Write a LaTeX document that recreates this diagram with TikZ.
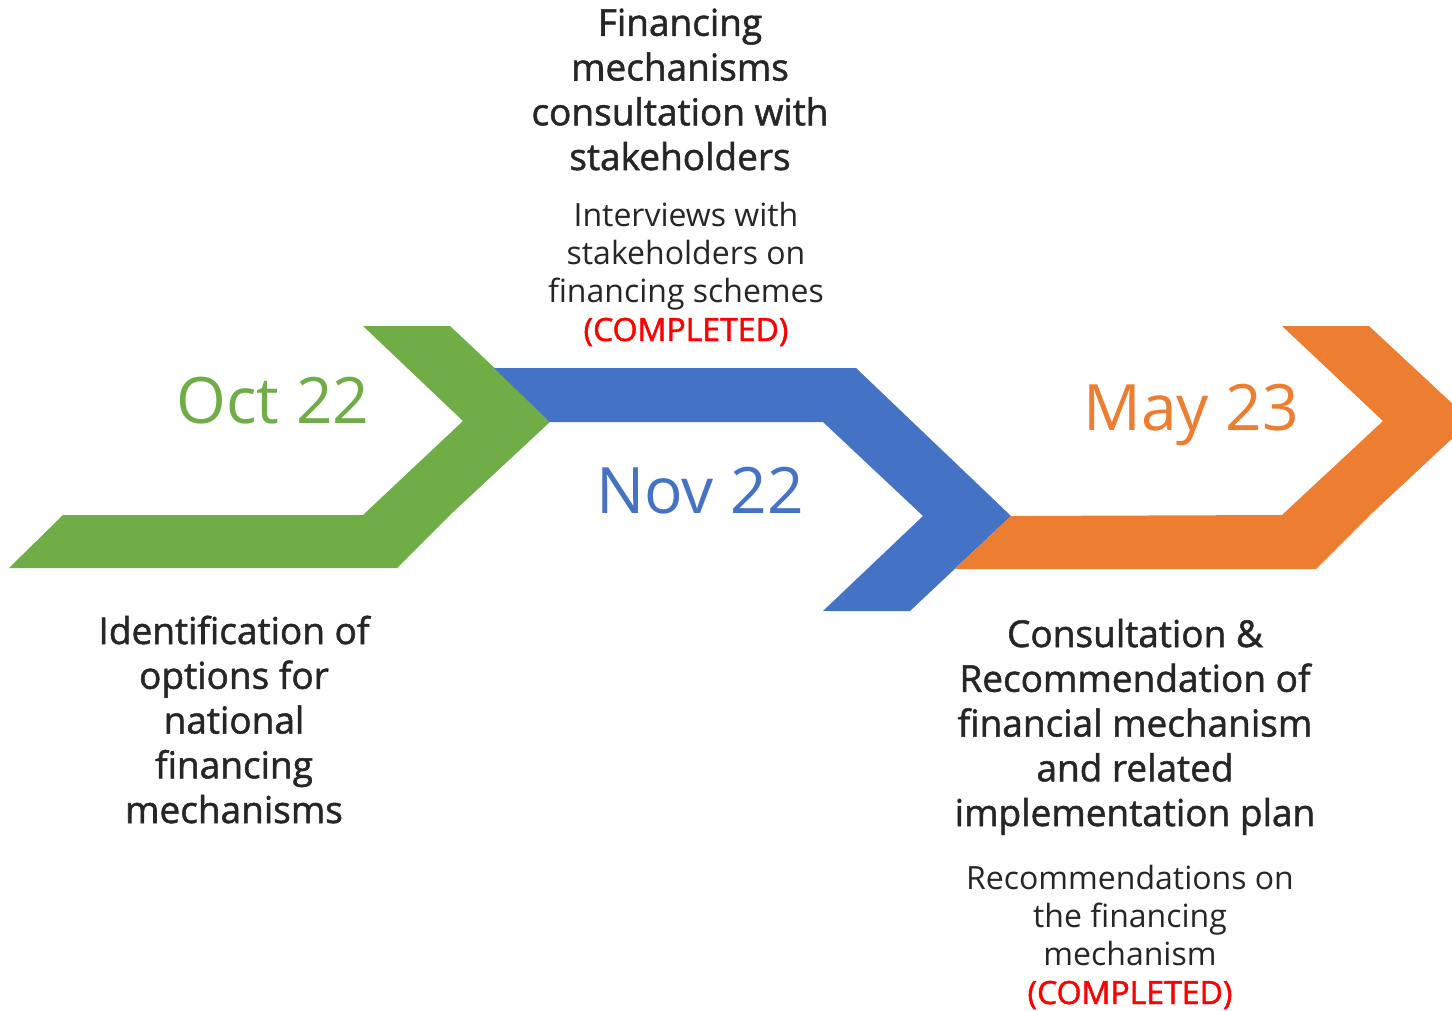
\documentclass[tikz,border=0pt]{standalone}
\usepackage{fontspec}
\setmainfont{Open Sans}
\newfontfamily\headfont{Open Sans}[FakeBold=1.4]
\definecolor{phasegreen}{HTML}{70AD47}
\definecolor{phaseblue}{HTML}{4472C4}
\definecolor{phaseorange}{HTML}{ED7D31}
\definecolor{donered}{HTML}{FF0000}
\definecolor{textgray}{HTML}{262626}
\newcommand{\donemark}{\textcolor{donered}{\headfont(COMPLETED)}}

\begin{document}
\begin{tikzpicture}[x=1pt, y=-1pt,
    date/.style ={anchor=base, inner sep=0pt, font=\fontsize{64}{70}\selectfont},
    heading/.style ={anchor=base, inner sep=0pt, align=center, text=textgray,
      font=\headfont\fontsize{37}{44.75}\selectfont},
    detail/.style ={anchor=base, inner sep=0pt, align=center, text=textgray,
      font=\fontsize{32}{38.3}\selectfont}]
   \useasboundingbox (0,0) rectangle (1452,1010);
   \clip (0,0) rectangle (1452,1010);
   % the three phase arrows
   \fill[phasegreen] (9,568) -- (63,515) -- (363,515) -- (463,421) -- (363,326)
      -- (450,326) -- (551,421) -- (450,515) -- (397,568) -- cycle;
   \fill[phaseblue] (494,368) -- (856,368) -- (1011,516) -- (910,611) -- (823,611)
      -- (923,516) -- (823,422) -- (550,422) -- cycle;
   \fill[phaseorange] (1011,516) -- (955,569) -- (1316,569) -- (1370,515) -- (1471,421)
      -- (1369,326) -- (1282,326) -- (1383,421) -- (1282,515) -- cycle;
   % dates
   \node[date, text=phasegreen] (oct) at (273,423) {Oct 22};
   \node[date, text=phaseblue] (nov) at (700,513) {Nov 22};
   \node[date, text=phaseorange] (may) at (1191,430) {May 23};
   % phase texts (anchored on their last line)
   \node[heading] (identify) at (234,823) {Identification of\\options for\\national\\financing\\mechanisms};
   \node[heading] (consult) at (680,170) {Financing\\mechanisms\\consultation with\\stakeholders};
   \node[detail] (interviews) at (686,341) {Interviews with\\stakeholders on\\financing schemes\\\donemark};
   \node[heading] (recommend) at (1135,826) {Consultation \&\\Recommendation of\\financial mechanism\\and related\\implementation plan};
   \node[detail] (results) at (1130,1004) {Recommendations on\\the financing\\mechanism\\\donemark};
\end{tikzpicture}
\end{document}
